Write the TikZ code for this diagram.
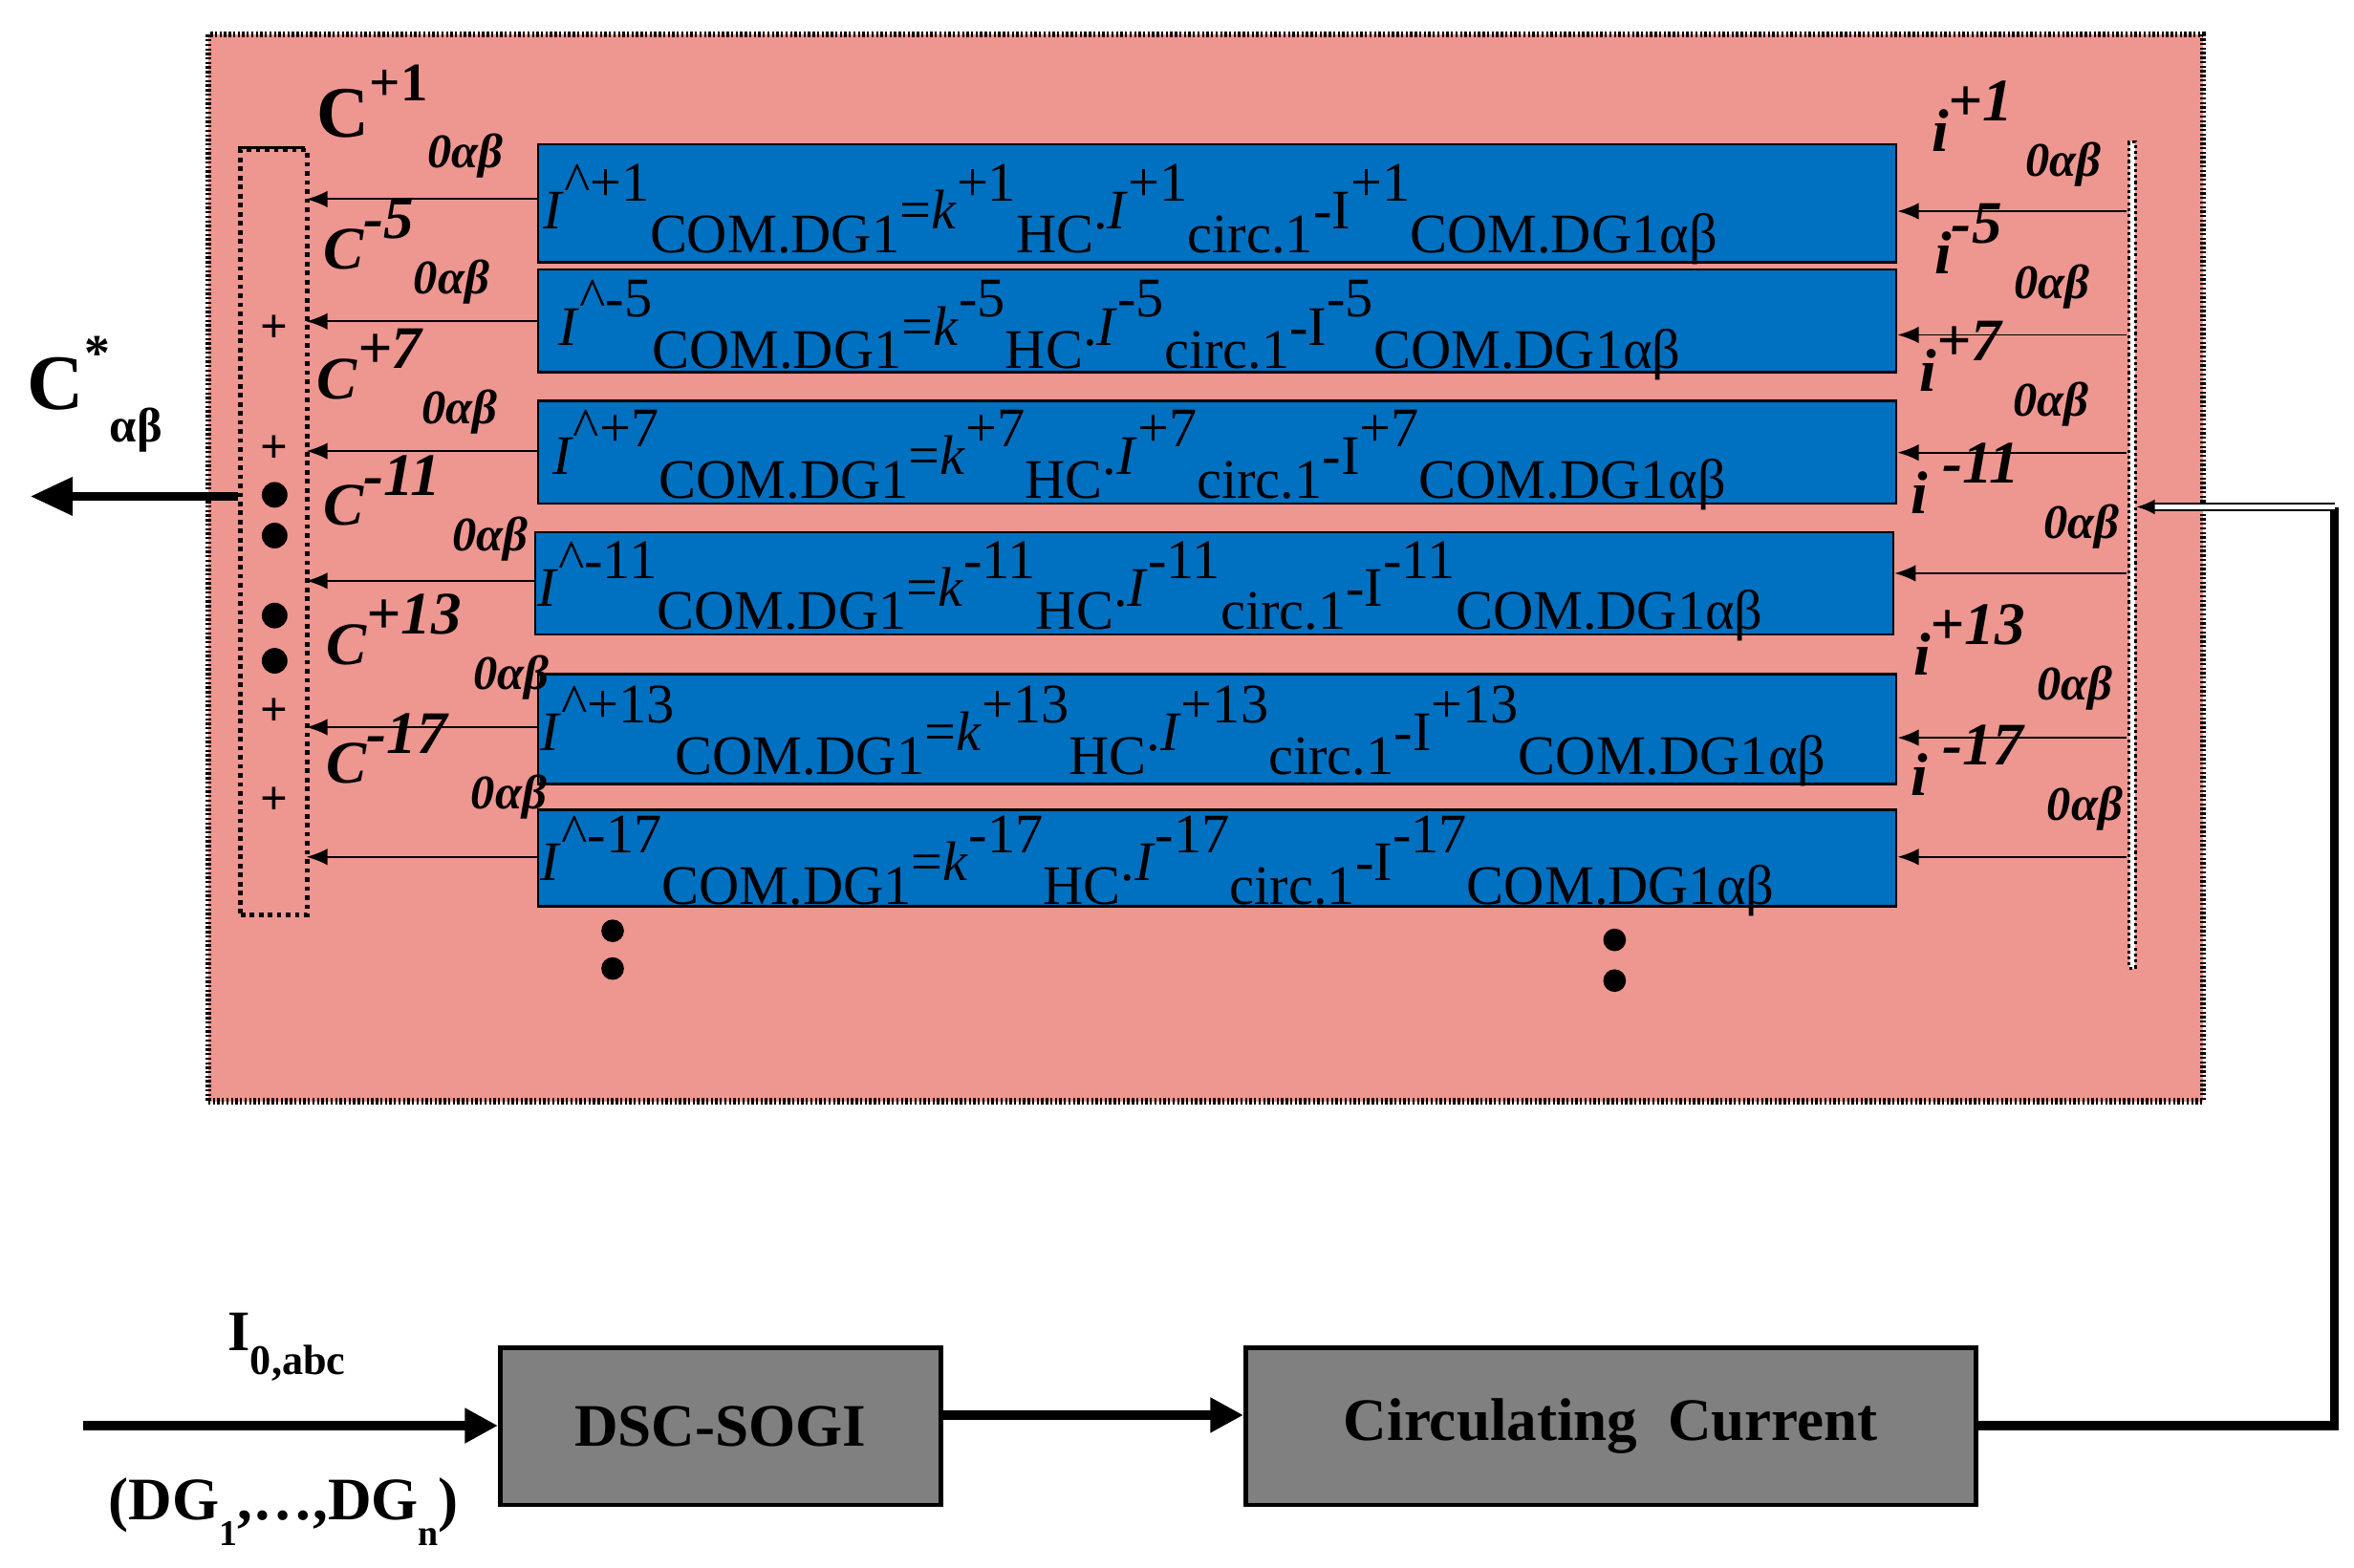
\documentclass[tikz,border=0pt]{standalone}
\usepackage{fontspec}
\setmainfont{Liberation Serif}
\usetikzlibrary{arrows.meta}
\definecolor{pinkbg}{HTML}{EE9690}
\definecolor{rowblue}{HTML}{0070C0}
\definecolor{boxgray}{HTML}{808080}
\newcommand\up[1]{\raisebox{.5em}{#1}}
\newcommand\dn[1]{\raisebox{-.42em}{#1}}
\newcommand\eqrow[2]{\textit{I}\up{\^{}#1}\dn{COM.DG1}=\textit{k}\up{#2}\dn{HC}.\textit{I}\up{#2}\dn{circ.1}-I\up{#2}\dn{COM.DG1αβ}}
\begin{document}
\begin{tikzpicture}[x=1pt,y=-1pt,
  row/.style={fill=rowblue,draw=black,line width=1.5pt,minimum width=900pt,anchor=north west,inner sep=0pt},
  eq/.style={anchor=west,font=\fontsize{37}{40}\selectfont,inner sep=0pt},
  lab/.style={font=\fontsize{40}{42}\selectfont\bfseries\itshape,inner sep=0pt},
  sarr/.style={-{Latex[length=14pt,width=11pt]},line width=1.2pt},
  big/.style={line width=6pt},
  gbox/.style={fill=boxgray,draw=black,line width=3pt,font=\fontsize{40}{42}\selectfont\bfseries,inner sep=0pt},
  dot/.style={circle,fill=black,inner sep=0pt,minimum size=15pt}]
\useasboundingbox (0,0) rectangle (1560,1039);
% pink container
\node[fill=pinkbg,draw=black,line width=4pt,dash pattern=on 1.5pt off 1.5pt,minimum width=1322pt,minimum height=707pt,anchor=north west,inner sep=0pt] (P) at (136,21) {};
% sum box
\node[draw=black,line width=3pt,dash pattern=on 3pt off 3pt,minimum width=44pt,minimum height=507pt,anchor=north west,inner sep=0pt] (S) at (158,98) {};
\draw[line width=2pt] (158,98) -- (202,98);
% right bar
\node[draw=black,line width=2pt,dash pattern=on 2pt off 2pt,fill=black!0,minimum width=4pt,minimum height=548pt,anchor=north west,inner sep=0pt] (R) at (1410,93) {};
% rows
\node[row,minimum height=78pt] (r1) at (356,95) {};
\node[row,minimum height=68pt] (r2) at (356,178) {};
\node[row,minimum height=68pt] (r3) at (356,265) {};
\node[row,minimum height=68pt] (r4) at (354,352) {};
\node[row,minimum height=73pt] (r5) at (356,446) {};
\node[row,minimum height=64pt] (r6) at (356,536) {};
\node[eq] (e1) at (360,142) {\eqrow{+1}{+1}};
\node[eq] (e2) at (370,219) {\eqrow{-5}{-5}};
\node[eq] (e3) at (366,305) {\eqrow{+7}{+7}};
\node[eq] (e4) at (356,392) {\eqrow{-11}{-11}};
\node[eq] (e5) at (358,488) {\eqrow{+13}{+13}};
\node[eq] (e6) at (358,574) {\eqrow{-17}{-17}};
% left arrows
\foreach \r/\y in {1/132,2/213,3/299,4/385,5/482,6/568}{
  \coordinate (L\r) at (203,\y);
  \draw[sarr] (r\r.west |- L\r) -- (L\r);
}
% right arrows
\foreach \r/\y in {1/140,2/222,3/300,4/380,5/489,6/568}{
  \coordinate (Q\r) at (1409,\y);
  \draw[sarr] (Q\r) -- (r\r.east |- Q\r);
}
% C labels
\node[lab,font=\fontsize{48}{50}\selectfont\bfseries,anchor=south west] (c1) at (210,118) {C\up{\fontsize{36}{38}\selectfont +1}\dn{\fontsize{32}{34}\selectfont\itshape 0αβ}};
\node[lab,anchor=south west] (c2) at (214,202) {C\up{-5}\dn{\fontsize{32}{34}\selectfont 0αβ}};
\node[lab,anchor=south west] (c3) at (210,288) {C\up{+7}\dn{\fontsize{32}{34}\selectfont 0αβ}};
\node[lab,anchor=south west] (c4) at (214,372) {C\up{-11}\dn{\fontsize{32}{34}\selectfont\ 0αβ}};
\node[lab,anchor=south west] (c5) at (216,464) {C\up{+13}\dn{\fontsize{32}{34}\selectfont\ 0αβ}};
\node[lab,anchor=south west] (c6) at (216,543) {C\up{-17}\dn{\fontsize{32}{34}\selectfont\ \ 0αβ}};
% i labels
\node[lab,anchor=south west] (i1) at (1280,124) {i\up{+1}\dn{\fontsize{32}{34}\selectfont\ 0αβ}};
\node[lab,anchor=south west] (i2) at (1282,205) {i\up{-5}\dn{\fontsize{32}{34}\selectfont\ 0αβ}};
\node[lab,anchor=south west] (i3) at (1272,283) {i\up{+7}\dn{\fontsize{32}{34}\selectfont\ 0αβ}};
\node[lab,anchor=south west] (i4) at (1266,364) {i\up{~-11}\dn{\fontsize{32}{34}\selectfont\ \ 0αβ}};
\node[lab,anchor=south west] (i5) at (1268,471) {i\up{+13}\dn{\fontsize{32}{34}\selectfont\ 0αβ}};
\node[lab,anchor=south west] (i6) at (1266,551) {i\up{~-17}\dn{\fontsize{32}{34}\selectfont\ \ 0αβ}};
% plus and dots in sum box
\foreach \n/\y in {p1/218,p2/298,p3/472,p4/531}
  \node[font=\fontsize{32}{34}\selectfont\bfseries,inner sep=0pt] (\n) at (182,\y) {+};
\foreach \n/\y in {d1/328,d2/355,d3/408,d4/438}
  \node[dot,minimum size=17pt] (\n) at (182,\y) {};
% continuation dots
\node[dot] (v1) at (406,617) {};
\node[dot] (v2) at (406,642) {};
\node[dot] (v3) at (1070,623) {};
\node[dot] (v4) at (1070,650) {};
% output
\coordinate (out) at (20,329);
\draw[big,-{Triangle[length=28pt,width=24pt]}] (S.west |- out) -- (out);
\node[font=\fontsize{52}{54}\selectfont\bfseries,anchor=south west,inner sep=0pt] (cs) at (18,300) {C\up{\fontsize{34}{36}\selectfont *}\dn{\fontsize{32}{34}\selectfont αβ}};
% bottom blocks
\node[gbox,minimum width=292pt,minimum height=104pt,anchor=north west] (dsc) at (330,892) {DSC-SOGI};
\node[gbox,minimum width=484pt,minimum height=104pt,anchor=north west] (cc) at (824,892) {Circulating\ \ Current};
\coordinate (in) at (55,945);
\draw[big,-{Triangle[length=22pt,width=22pt]}] (in) -- (dsc.west |- in);
\node[font=\fontsize{38}{40}\selectfont\bfseries,inner sep=0pt] (il) at (190,893) {I\dn{\fontsize{28}{30}\selectfont 0,abc}};
\node[font=\fontsize{40}{42}\selectfont\bfseries,inner sep=0pt] (dg) at (188,1002) {(DG\dn{\fontsize{24}{26}\selectfont 1},…,DG\dn{\fontsize{24}{26}\selectfont n})};
\draw[big,-{Triangle[length=22pt,width=22pt]}] (dsc.east |- 0,938) -- (cc.west |- 0,938);
\coordinate (corner1) at (1547,945);
\coordinate (corner2) at (1547,336);
\draw[big] (cc.east |- corner1) -- (corner1) -- (corner2);
\coordinate (fb) at (1416,336);
\draw[line width=1.2pt,double distance=3pt,-{Latex[length=12pt,width=10pt]}] (corner2) -- (fb);
\end{tikzpicture}
\end{document}
